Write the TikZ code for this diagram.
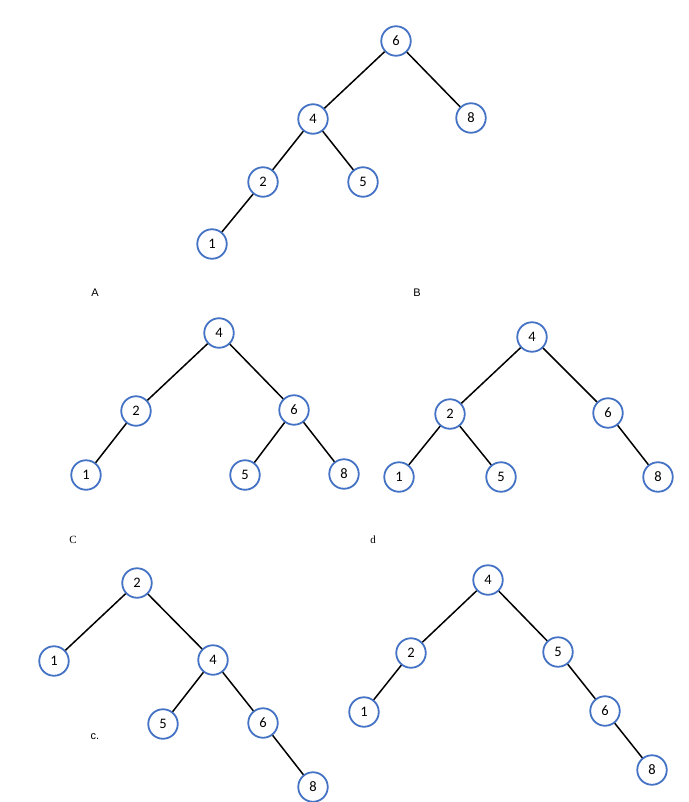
\documentclass[tikz,border=0pt]{standalone}
\usepackage{fontspec}
\setmainfont{Carlito}
\newfontfamily\arialf{Liberation Sans}
\newfontfamily\timesf{Liberation Serif}
\definecolor{nodeblue}{HTML}{4472C4}
\begin{document}
\begin{tikzpicture}[x=1pt,y=-1pt,
  tn/.style={circle,draw=nodeblue,line width=1.8pt,minimum size=29.5pt,inner sep=0pt,fill=white,font=\fontsize{14.5}{14.5}\selectfont},
  ed/.style={draw=black,line width=1.5pt},
  lab/.style={inner sep=0pt,font=\arialf\fontsize{11}{11}\selectfont},
  labs/.style={inner sep=0pt,font=\timesf\fontsize{11}{11}\selectfont}]
\useasboundingbox (0,0) rectangle (688,802);
% Tree 1
\node[tn] (a6) at (396,41) {6};
\node[tn] (a4) at (313,119) {4};
\node[tn] (a8) at (471,118) {8};
\node[tn] (a2) at (263,182) {2};
\node[tn] (a5) at (363,182) {5};
\node[tn] (a1) at (212,244) {1};
\draw[ed] (a6)--(a4) (a6)--(a8) (a4)--(a2) (a4)--(a5) (a2)--(a1);
\node[lab] (lA) at (95,293) {A};
\node[lab] (lB) at (417,293) {B};
% Tree 2
\node[tn] (b4) at (219,333) {4};
\node[tn] (b2) at (136,411) {2};
\node[tn] (b6) at (294,410) {6};
\node[tn] (b1) at (86,475) {1};
\node[tn] (b5) at (245,475) {5};
\node[tn] (b8) at (344,474) {8};
\draw[ed] (b4)--(b2) (b4)--(b6) (b2)--(b1) (b6)--(b5) (b6)--(b8);
% Tree 3
\node[tn] (c4) at (532,337) {4};
\node[tn] (c2) at (450,414) {2};
\node[tn] (c6) at (608,413) {6};
\node[tn] (c1) at (399,477) {1};
\node[tn] (c5) at (501,477) {5};
\node[tn] (c8) at (658,477) {8};
\draw[ed] (c4)--(c2) (c4)--(c6) (c2)--(c1) (c2)--(c5) (c6)--(c8);
\node[labs] (lC) at (73,540) {C};
\node[labs] (ld) at (373,540) {d};
% Tree 4
\node[tn] (d2) at (137,583) {2};
\node[tn] (d1) at (54,661) {1};
\node[tn] (d4) at (213,660) {4};
\node[tn] (d5) at (163,724) {5};
\node[tn] (d6) at (263,723) {6};
\node[tn] (d8) at (313,787) {8};
\draw[ed] (d2)--(d1) (d2)--(d4) (d4)--(d5) (d4)--(d6) (d6)--(d8);
\node[lab] (lc) at (95,737) {c.};
% Tree 5
\node[tn] (e4) at (488,580) {4};
\node[tn] (e2) at (411,653) {2};
\node[tn] (e5) at (558,652) {5};
\node[tn] (e1) at (364,712) {1};
\node[tn] (e6) at (605,711) {6};
\node[tn] (e8) at (652,770) {8};
\draw[ed] (e4)--(e2) (e4)--(e5) (e2)--(e1) (e5)--(e6) (e6)--(e8);
\end{tikzpicture}
\end{document}
